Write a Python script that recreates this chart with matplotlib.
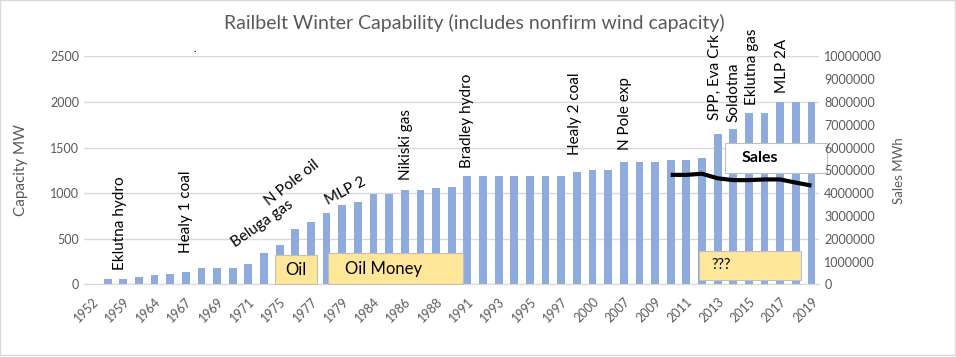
import matplotlib
matplotlib.use("Agg")
import matplotlib.pyplot as plt
from matplotlib.patches import Rectangle
import numpy as np

# ------------------------------------------------------------------
# DATA
# ------------------------------------------------------------------
years = ["1952", "1958", "1959", "1962", "1964", "1965", "1967", "1968", "1969", "1970",
         "1971", "1973", "1975", "1976", "1977", "1978", "1979", "1982", "1984", "1985",
         "1986", "1987", "1988", "1990", "1991", "1992", "1993", "1994", "1995", "1996",
         "1997", "1998", "2000", "2005", "2007", "2008", "2009", "2010", "2011", "2012",
         "2013", "2014", "2015", "2016", "2017", "2018", "2019"]

capacity_mw = [5, 62, 62, 84, 99, 110, 135, 182, 182, 182,
               219, 347, 431, 602, 679, 778, 866, 902, 986, 986,
               1037, 1037, 1052, 1063, 1187, 1187, 1187, 1187, 1187, 1187,
               1187, 1234, 1249, 1249, 1344, 1344, 1344, 1359, 1359, 1381,
               1651, 1706, 1877, 1877, 2000, 2000, 2000]

sales_years = ["2010", "2011", "2012", "2013", "2014", "2015", "2016", "2017", "2018", "2019"]
sales_mwh = [4800000, 4800000, 4850000, 4650000, 4570000, 4570000, 4600000, 4600000, 4460000, 4330000]

# event labels: (text, x position in bar units, y in MW, rotation)
events = [
    ("Eklutna hydro", 1.8, 157, 90),
    ("Healy 1 coal", 6.0, 340, 90),
    ("Nikiski gas", 20.1, 1143, 90),
    ("Bradley hydro", 24.0, 1271, 90),
    ("Healy 2 coal", 30.9, 1417, 90),
    ("N Pole exp", 34.1, 1472, 90),
    ("SPP, Eva Crk", 39.8, 1800, 90),
    ("Soldotna", 41.0, 1782, 90),
    ("Eklutna gas", 42.2, 1965, 90),
    ("MLP 2A", 44.1, 2093, 90),
]
slanted = [
    ("Beluga gas", 10.9, 661, 35),
    ("N Pole oil", 12.8, 1110, 38),
    ("MLP 2", 16.2, 1023, 28),
]

# ------------------------------------------------------------------
# FIGURE
# ------------------------------------------------------------------
plt.rcParams["font.family"] = ["Lato", "DejaVu Sans"]
GREY = "#595959"
BAR = "#8FAADC"
BOX = "#FFE699"

fig = plt.figure(figsize=(9.56, 3.57), dpi=100)
ax = fig.add_axes([0.088, 0.2036, 0.769, 0.6386])
ax2 = ax.twinx()

x = np.arange(len(years))
ax.bar(x, capacity_mw, width=0.5, color=BAR, zorder=2)

sx = [years.index(y) for y in sales_years]
ax2.plot(sx, sales_mwh, color="black", lw=3, solid_capstyle="butt", zorder=5)

ax.set_xlim(-0.5, len(years) - 0.5)
ax.set_ylim(0, 2500)
ax.set_yticks(range(0, 2501, 500))
ax2.set_ylim(0, 10000000)
ax2.set_yticks(range(0, 10000001, 1000000))
ax2.set_yticklabels([str(v) for v in range(0, 10000001, 1000000)])

ax.set_xticks(x[::2])
ax.set_xticklabels(years[::2], rotation=45, ha="right", rotation_mode="anchor")
ax.grid(axis="y", color="#D9D9D9", lw=1, zorder=0)
ax.set_axisbelow(True)

for a in (ax, ax2):
    for s in a.spines.values():
        s.set_visible(False)
    a.tick_params(colors=GREY, labelsize=9, length=0)
ax.spines["bottom"].set_visible(True)
ax.spines["bottom"].set_color("#D9D9D9")
ax.tick_params(axis="x", labelsize=9, pad=8)

ax.set_ylabel("Capacity MW", color=GREY, fontsize=11, labelpad=16)
ax2.set_ylabel("Sales MWh", color=GREY, fontsize=9.5, labelpad=8)

fig.text(0.496, 0.935, "Railbelt Winter Capability (includes nonfirm wind capacity)",
         ha="center", va="center", fontsize=14, color=GREY)
fig.text(0.202, 0.855, ".", fontsize=8, color="black")

for txt, xp, yp, rot in events:
    ax.text(xp, yp, txt, rotation=rot, ha="center", va="bottom", fontsize=11, zorder=6)
for txt, xp, yp, rot in slanted:
    ax.text(xp, yp, txt, rotation=rot, ha="center", va="center",
            rotation_mode="anchor", fontsize=11, zorder=6)

# text boxes
boxes = [
    ("Oil", 11.71, 0, 14.37, 321, BOX, 12, "normal", 0.5),
    ("Oil Money", 15.12, 0, 23.75, 343, BOX, 12, "normal", 0.12),
    ("???", 38.8, 47, 45.3, 368, BOX, 10.5, "normal", 0.12),
    ("Sales", 40.5, 1216, 47.0, 1545, "white", 11.5, "bold", 0.16),
]
for txt, x0, y0, x1, y1, fc, fs, fw, tx in boxes:
    ax.add_patch(Rectangle((x0, y0), x1 - x0, y1 - y0, facecolor=fc,
                           edgecolor="#BFBFBF", lw=0.8, zorder=7, clip_on=False))
    ha = "center" if tx == 0.5 else "left"
    ax.text(x0 + (x1 - x0) * tx, (y0 + y1) / 2, txt, ha=ha, va="center",
            fontsize=fs, fontweight=fw, zorder=8)

fig.add_artist(Rectangle((0, 0.005), 0.9985, 0.995, transform=fig.transFigure,
                         fill=False, edgecolor="#D9D9D9", lw=1))

fig.savefig("out.png", dpi=100)
